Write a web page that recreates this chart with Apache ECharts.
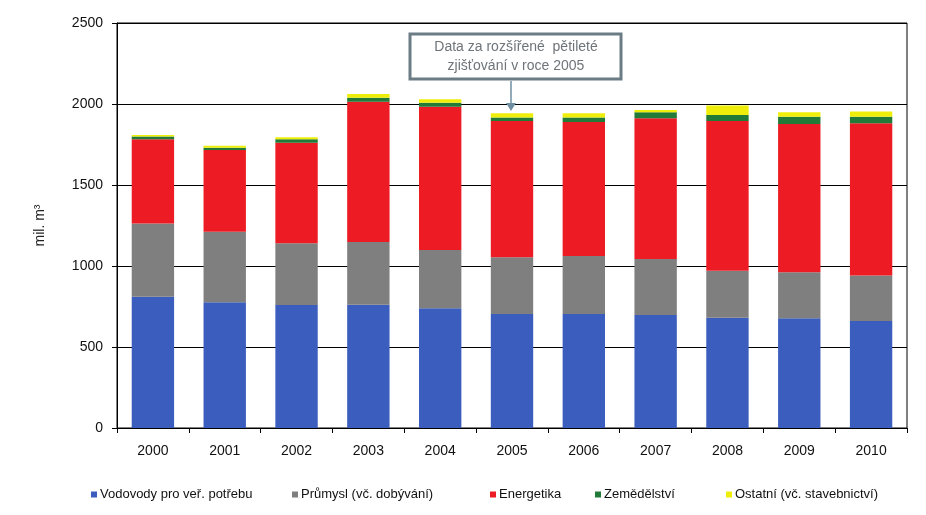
<!DOCTYPE html>
<html>
<head>
<meta charset="utf-8">
<script src="https://cdn.jsdelivr.net/npm/echarts@6/dist/echarts.min.js"></script>
<style>html,body{margin:0;padding:0;background:#fff;}#c{width:926px;height:515px;}</style>
</head>
<body>
<div id="c"></div>
<script>
const years = ['2000','2001','2002','2003','2004','2005','2006','2007','2008','2009','2010'];
const vodovody = [810, 776, 759, 761, 739, 704, 704, 698, 681, 677, 660];
const prumysl = [453, 436, 381, 387, 360, 350, 358, 345, 290, 284, 282];
const energetika = [519, 504, 621, 866, 884, 841, 827, 869, 924, 916, 939];
const zemedelstvi = [17, 14, 21, 25, 25, 21, 27, 37, 37, 45, 41];
const ostatni = [10, 13, 13, 23, 21, 27, 27, 14, 58, 27, 31];
const seriesNames = ['Vodovody pro veř. potřebu', 'Průmysl (vč. dobývání)', 'Energetika', 'Zemědělství', 'Ostatní (vč. stavebnictví)'];
const seriesColors = ['#3b5ebe', '#7f7f7f', '#ed1c24', '#217a37', '#eeee0a'];
const yTicks = [0, 500, 1000, 1500, 2000, 2500];
const noteLines = ['Data za rozšířené  pětileté', 'zjišťování v roce 2005'];

const font = 'Arial, "Liberation Sans", sans-serif';
const chart = echarts.init(document.getElementById('c'));
const dataSets = [vodovody, prumysl, energetika, zemedelstvi, ostatni];
const legendLeft = [86, 287, 485, 590, 721];

const option = {
  animation: false,
  backgroundColor: '#fff',
  textStyle: { fontFamily: font },
  grid: { left: 117, right: 19, top: 23, bottom: 87, show: true, borderColor: '#000', borderWidth: 1, backgroundColor: 'transparent' },
  legend: seriesNames.map((n, i) => ({
    data: [n], left: legendLeft[i], top: 483, itemWidth: 6, itemHeight: 6, itemGap: 4,
    icon: 'rect', selectedMode: false,
    textStyle: { fontSize: 13, color: '#111', fontFamily: font, padding: [0, 0, 0, -2] }
  })),
  xAxis: {
    type: 'category', data: years,
    axisLine: { lineStyle: { color: '#000', width: 1 } },
    axisTick: { show: true, length: 5, lineStyle: { color: '#000' } },
    axisLabel: { color: '#111', fontSize: 14, margin: 16, fontFamily: font }
  },
  yAxis: {
    type: 'value', min: yTicks[0], max: yTicks[yTicks.length - 1], interval: 500,
    name: 'mil. m³', nameLocation: 'middle', nameGap: 70, nameRotate: 90,
    nameTextStyle: { color: '#222', fontSize: 14, fontFamily: font },
    axisLine: { show: true, lineStyle: { color: '#000', width: 1 } },
    axisTick: { show: true, length: 5, lineStyle: { color: '#000' } },
    axisLabel: { color: '#111', fontSize: 14, margin: 14, fontFamily: font, formatter: v => String(v) },
    splitLine: { show: true, lineStyle: { color: '#000', width: 1 } }
  },
  series: seriesNames.map((n, i) => ({
    name: n, type: 'bar', stack: 'total', data: dataSets[i],
    barCategoryGap: '41%',
    itemStyle: { color: seriesColors[i] }
  })),
  graphic: [
    { type: 'rect', shape: { x: 410, y: 34, width: 211, height: 45 },
      style: { fill: '#fff', stroke: '#6b7c84', lineWidth: 3 }, z: 100 },
    { type: 'text', x: 516, y: 47, style: { text: noteLines[0], font: '14px ' + font, fill: '#6e7479', align: 'center', verticalAlign: 'middle' }, z: 101 },
    { type: 'text', x: 516, y: 66, style: { text: noteLines[1], font: '14px ' + font, fill: '#6e7479', align: 'center', verticalAlign: 'middle' }, z: 101 },
    { type: 'line', shape: { x1: 511, y1: 81, x2: 511, y2: 106 }, style: { stroke: '#6f8fa0', lineWidth: 1.5 }, z: 101 },
    { type: 'polygon', shape: { points: [[506, 103], [516, 103], [511, 111]] }, style: { fill: '#6f8fa0' }, z: 101 }
  ]
};
chart.setOption(option);
</script>
</body>
</html>
